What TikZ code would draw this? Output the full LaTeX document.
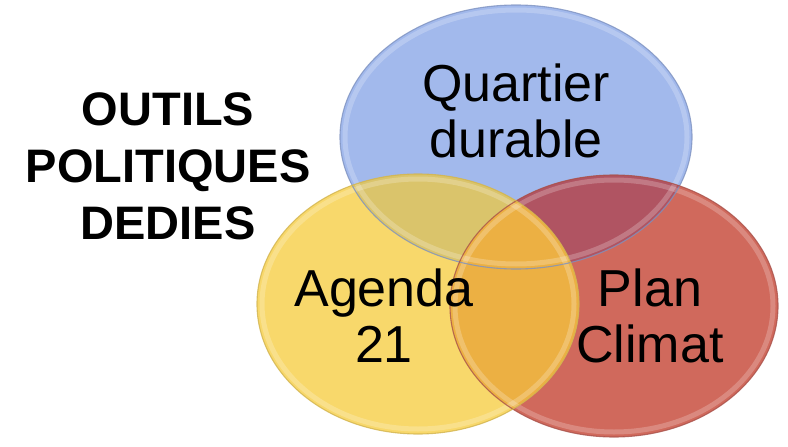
\documentclass[tikz,border=0pt]{standalone}
\usepackage{fontspec}
\setmainfont{Liberation Sans}
\definecolor{blueF}{HTML}{A2B9EC}
\definecolor{redF}{HTML}{D0695C}
\definecolor{yelF}{HTML}{F8D86B}
\definecolor{brF}{HTML}{B05462}
\definecolor{byF}{HTML}{DAC46B}
\definecolor{yrF}{HTML}{ECB043}
\definecolor{blueL}{HTML}{7E92C0}
\definecolor{redL}{HTML}{A9514A}
\definecolor{yelL}{HTML}{D2B44E}
\tikzset{
  rim/.style={draw=#1, line width=1.1pt, draw opacity=0.8},
  gloss/.style={draw=white, line width=5pt, draw opacity=0.22},
  lbl/.style={font=\fontsize{52}{56}\selectfont, align=center, text=black, inner sep=0pt},
  ttl/.style={font=\bfseries\fontsize{47}{57}\selectfont, align=center, text=black, inner sep=0pt}
}
\begin{document}
\begin{tikzpicture}[x=1pt,y=-1pt]
\useasboundingbox (0,0) rectangle (788,447);
% base fills
\fill[blueF] (516,137) ellipse [x radius=176, y radius=132];
\fill[redF] (614,306) ellipse [x radius=164, y radius=131];
\fill[yelF] (418,304) ellipse [x radius=161, y radius=130];
% overlaps
\begin{scope}
  \clip (516,137) ellipse [x radius=176, y radius=132];
  \fill[brF] (614,306) ellipse [x radius=164, y radius=131];
  \fill[byF] (418,304) ellipse [x radius=161, y radius=130];
\end{scope}
\begin{scope}
  \clip (418,304) ellipse [x radius=161, y radius=130];
  \fill[yrF] (614,306) ellipse [x radius=164, y radius=131];
\end{scope}
% gloss rims
\draw[gloss] (516,137) ellipse [x radius=171, y radius=127];
\draw[gloss] (614,306) ellipse [x radius=159, y radius=126];
\draw[gloss] (418,304) ellipse [x radius=156, y radius=125];
% outlines
\draw[rim=blueL] (516,137) ellipse [x radius=176, y radius=132];
\draw[rim=redL] (614,306) ellipse [x radius=164, y radius=131];
\draw[rim=yelL] (418,304) ellipse [x radius=161, y radius=130];
% labels (anchor=base is the last line's baseline)
\node[lbl, anchor=base] (quartier) at (516,157) {Quartier\\durable};
\node[lbl, anchor=base] (agenda) at (384,362) {Agenda\\21};
\node[lbl, anchor=base] (plan) at (650,362) {Plan\\Climat};
\node[ttl, anchor=base] (outils) at (168,239) {OUTILS\\POLITIQUES\\DEDIES};
\end{tikzpicture}
\end{document}
